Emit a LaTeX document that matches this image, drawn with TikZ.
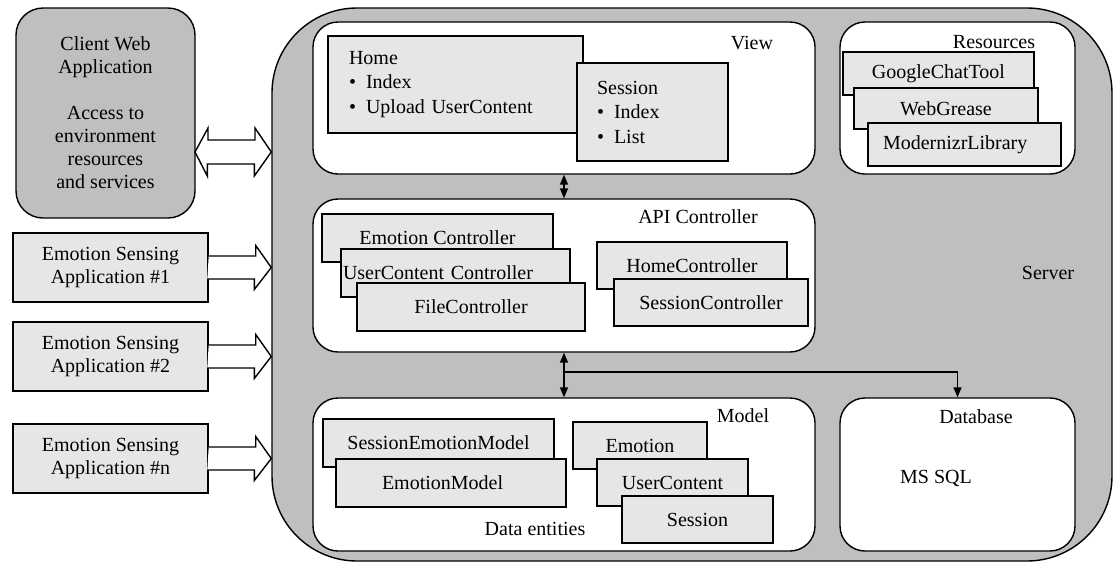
\documentclass[tikz,border=0pt]{standalone}
\usepackage{fontspec}
\setmainfont{Liberation Serif}
\usetikzlibrary{arrows.meta}
\definecolor{servergray}{HTML}{BFBFBF}
\definecolor{cardgray}{HTML}{E6E6E6}
\tikzset{
  dims/.style args = {#1x#2}{minimum width=#1pt, minimum height=#2pt},
  server/.style = {draw, line width=1.4pt, fill=servergray, rounded corners=85pt, dims=840x553},
  client/.style = {draw, line width=1.4pt, fill=servergray, rounded corners=27pt, align=center, dims=179x210},
  app/.style    = {draw, line width=1.4pt, fill=cardgray, align=center, dims=195x69},
  layer/.style  = {draw, line width=1.4pt, fill=white, rounded corners=25pt},
  card/.style   = {draw, line width=1.4pt, fill=cardgray, inner sep=2pt},
  listcard/.style = {card, align=left, font=\fontsize{20}{24.5}\selectfont},
  blk/.style    = {draw, line width=1.4pt, fill=white, line join=miter},
  arr/.style    = {-{Triangle[length=10pt,width=8pt]}, line width=1.4pt},
  biarr/.style  = {{Triangle[length=10pt,width=8pt]}-{Triangle[length=10pt,width=8pt]}, line width=1.4pt}
}

\begin{document}
\begin{tikzpicture}[x=1pt, y=-1pt, font=\fontsize{20}{23}\selectfont]
  \useasboundingbox (0,0) rectangle (1114,563);

  \node[server] (srv) at (692,284.5) {};

  % clients on the left
  \node[client] (cli)  at (105.5,113) {Client Web\\Application\\[23pt]Access to\\environment\\resources\\and services};
  \node[app]    (app1) at (110.5,267.5) {Emotion Sensing\\Application \#1};
  \node[app]    (app2) at (110.5,356.5) {Emotion Sensing\\Application \#2};
  \node[app]    (appn) at (110.5,458.5) {Emotion Sensing\\Application \#n};

  \coordinate (dl) at (195,152);
  \coordinate (dr) at (srv.west |- dl);
  \draw[blk] (dl) -- ++(13,-24) -- ++(0,12) -- ++(47,0) -- ++(0,-12) -- (dr)
    -- ++(-17,24) -- ++(0,-12) -- ++(-47,0) -- ++(0,12) -- cycle;
  \foreach \a in {app1,app2,appn}
    \draw[blk] (\a.east) ++(0,-11.5) -- ++(47,0) -- ++(0,-10.5) -- (\a.east -| srv.west)
      -- ++(-17,22) -- ++(0,-10.5) -- ++(-47,0);

  % layers
  \node[layer, dims=502x152] (view)  at (564,98) {};
  \node[layer, dims=502x153] (api)   at (564,275.5) {};
  \node[layer, dims=502x153] (model) at (564,474.5) {};
  \node[layer, dims=235x152] (res)   at (957.5,98) {};
  \node[layer, dims=235x153] (db)    at (957.5,474.5) {};

  \node (viewlbl)  at (752,43)  {View};
  \node (apilbl)   at (698,217) {API Controller};
  \node (modellbl) at (743,416) {Model};
  \node (entlbl)   at (535,529) {Data entities};
  \node (reslbl)   at (994,42)  {Resources};
  \node (dblbl)    at (976,417) {Database};
  \node (sqllbl)   at (936,478) {MS SQL};
  \node (srvlbl)   at (1048,273) {Server};

  % view pages
  \node[listcard, dims=255x97, inner xsep=21pt, text width=213pt] (homev) at (455.5,84.5)
    {Home\\\textbullet\hspace{10pt}Index\\\textbullet\hspace{10pt}Upload UserContent};
  \node[listcard, dims=151x98, inner xsep=20pt, text width=111pt] (sessv) at (652.5,112)
    {Session\\\textbullet\hspace{10pt}Index\\\textbullet\hspace{10pt}List};

  % controllers
  \node[card, dims=231x48] (emoc)  at (437.5,238) {Emotion Controller};
  \node[card, dims=229x48, text width=225pt, align=left] (ucc) at (455.5,273) {UserContent Controller};
  \node[card, dims=228x48] (filec) at (471,307)   {FileController};
  \node[card, dims=190x47] (homec) at (692,265.5) {HomeController};
  \node[card, dims=194x47] (sessc) at (711,302.5) {SessionController};

  % models
  \node[card, dims=231x48] (sem) at (438.5,443) {SessionEmotionModel};
  \node[card, dims=230x48, inner xsep=46pt, text width=138pt, align=left] (em) at (451,483) {EmotionModel};
  \node[card, dims=134x47] (emo) at (640,445.5)   {Emotion};
  \node[card, dims=151x47] (uc)  at (672.5,482.5) {UserContent};
  \node[card, dims=151x47] (ses) at (697.5,519.5) {Session};

  % resources
  \node[card, dims=191x43] (gct) at (938.5,73.5) {GoogleChatTool};
  \node[card, dims=184x41] (wg)  at (946,108.5)  {WebGrease};
  \node[card, dims=193x43, inner xsep=15pt, text width=163pt, align=left] (mzl) at (964.5,144.5) {ModernizrLibrary};

  % connectors
  \draw[biarr] (view.south) -- (api.north);
  \draw[biarr] (api.south) -- (model.north);
  \coordinate (fork) at (api.south |- 0,372);
  \draw[arr] (fork) -| (db.north);
\end{tikzpicture}
\end{document}
